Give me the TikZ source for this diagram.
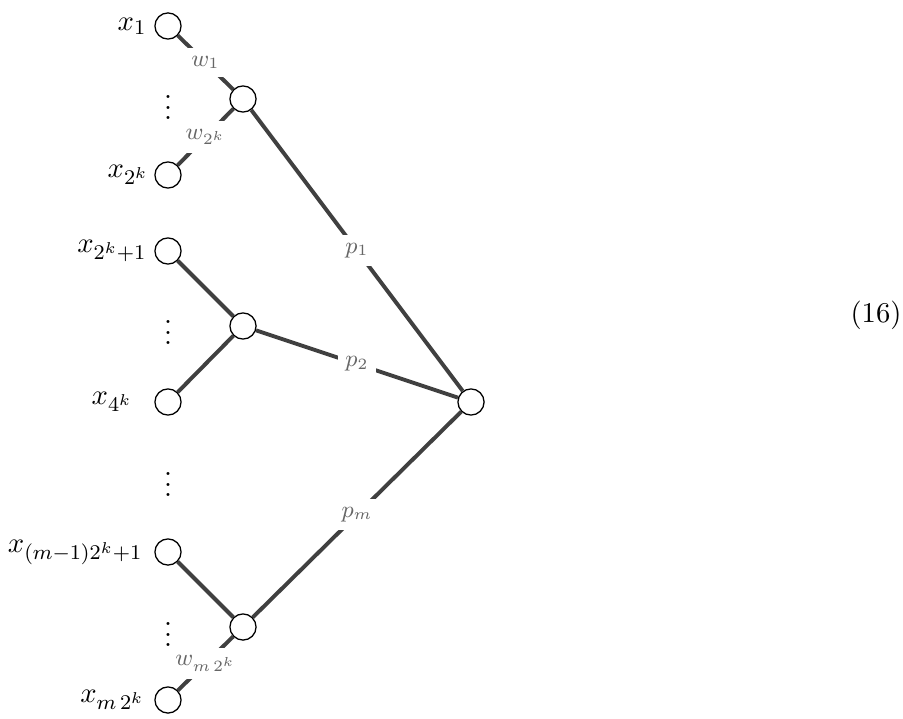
\documentclass[tikz,border=0pt]{standalone}
\begin{document}
\begin{tikzpicture}[x=0.3823pt,y=-0.3823pt,
  neuron/.style={circle,draw=black,line width=0.5pt,minimum size=10pt,inner sep=0pt,fill=white},
  conn/.style={draw=black!75,line width=1.5pt},
  wlab/.style={midway,fill=white,text=black!60,font=\fontsize{9}{11}\selectfont,inner sep=3pt},
  inlab/.style={anchor=east,inner sep=0pt,font=\fontsize{10.95}{13}\selectfont}]
\useasboundingbox (0,0) rectangle (903,719);
% input nodes
\node[neuron] (i1) at (168,26) {};
\node[neuron] (i2) at (168,175) {};
\node[neuron] (i3) at (168,251) {};
\node[neuron] (i4) at (168,402) {};
\node[neuron] (i5) at (168,552) {};
\node[neuron] (i6) at (168,700) {};
% hidden nodes
\node[neuron] (h1) at (243,99) {};
\node[neuron] (h2) at (243,326) {};
\node[neuron] (h3) at (243,627) {};
% output
\node[neuron] (o) at (471,402) {};
% input labels
\node[inlab] (l1) at (147,26) {$x_1$};
\node[inlab] (l2) at (149,175) {$x_{2^k}$};
\node[inlab] (l3) at (147,251) {$x_{2^k+1}$};
\node[inlab] (l4) at (133,402) {$x_{4^k}$};
\node[inlab] (l5) at (143,552) {$x_{(m-1)2^k+1}$};
\node[inlab] (l6) at (145,700) {$x_{m\,2^k}$};
% dots
\node[inlab,anchor=center] (d1) at (168,100) {$\vdots$};
\node[inlab,anchor=center] (d2) at (168,325) {$\vdots$};
\node[inlab,anchor=center] (d3) at (168,477) {$\vdots$};
\node[inlab,anchor=center] (d4) at (168,627) {$\vdots$};
% connections
\draw[conn] (i1) -- node[wlab] {$w_1$} (h1);
\draw[conn] (i2) -- node[wlab] {$w_{2^k}$} (h1);
\draw[conn] (i3) -- (h2);
\draw[conn] (i4) -- (h2);
\draw[conn] (i5) -- (h3);
\draw[conn] (i6) -- node[wlab] {$w_{m\,2^k}$} (h3);
\draw[conn] (h1) -- node[wlab] {$p_1$} (o);
\draw[conn] (h2) -- node[wlab] {$p_2$} (o);
\draw[conn] (h3) -- node[wlab] {$p_m$} (o);
% equation number
\node[inlab,anchor=center] (eq) at (876,315) {(16)};
\end{tikzpicture}
\end{document}
